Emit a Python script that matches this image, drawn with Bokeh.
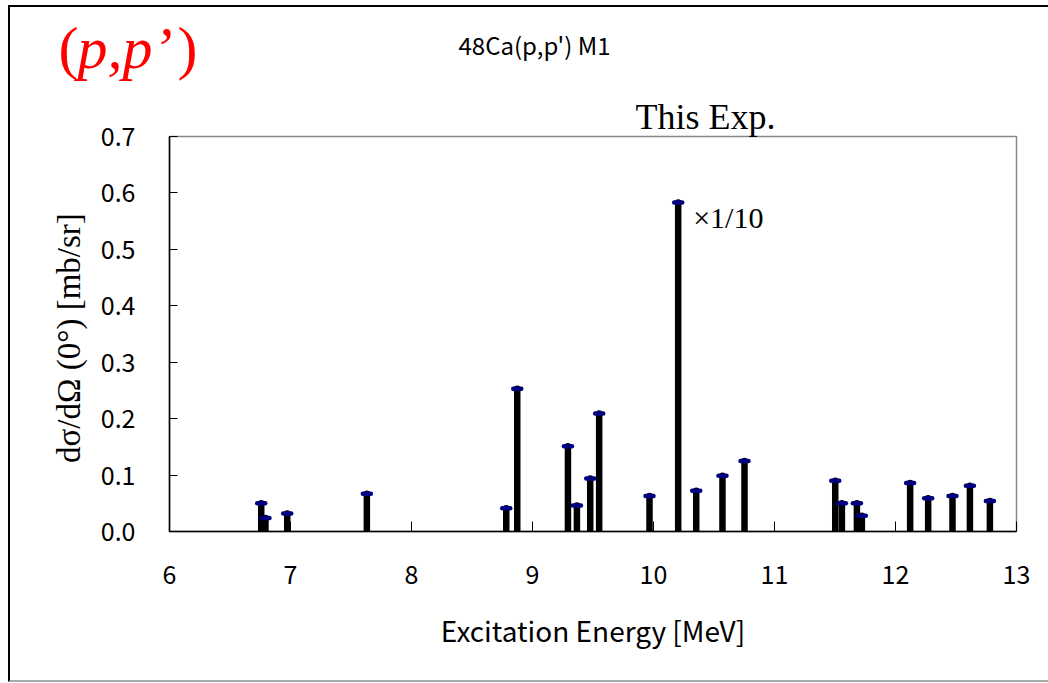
from bokeh.plotting import figure
from bokeh.layouts import column
from bokeh.models import (Range1d, FixedTicker, PrintfTickFormatter, Label, Title,
                          ColumnDataSource)
from bokeh.embed import file_html
from bokeh.resources import INLINE

# ---- data ----
energy = [6.758, 6.793, 6.973, 7.631, 8.783, 8.874, 9.293, 9.367, 9.477, 9.551,
          9.967, 10.204, 10.353, 10.570, 10.752, 11.502, 11.557, 11.681, 11.722,
          12.121, 12.270, 12.471, 12.615, 12.780]
cross_section = [0.050, 0.024, 0.032, 0.067, 0.041, 0.253, 0.151, 0.046, 0.094, 0.209,
                 0.063, 0.583, 0.072, 0.099, 0.125, 0.090, 0.050, 0.050, 0.028,
                 0.086, 0.059, 0.063, 0.081, 0.054]
zeros = [0.0] * len(energy)
x_ticks = [6, 7, 8, 9, 10, 11, 12, 13]
y_ticks = [0.0, 0.1, 0.2, 0.3, 0.4, 0.5, 0.6, 0.7]

SANS = "Noto Sans CJK JP"
SERIF = "Liberation Serif"

OX, OY = 10, 7          # content origin inside the slide border
W = 1048 - OX
HEADER_H = 85
MAIN_H = 680 - OY - HEADER_H

# ---- header (page pixel coordinates, y downward) ----
head = figure(width=W, height=HEADER_H, output_backend="svg", toolbar_location=None,
              x_range=Range1d(OX, OX + W), y_range=Range1d(OY + HEADER_H, OY),
              min_border=0, min_border_left=0, min_border_right=0,
              min_border_top=0, min_border_bottom=0, frame_align=False)
head.axis.visible = False
head.grid.visible = False
head.outline_line_color = None
head.background_fill_color = "white"
head.border_fill_color = "white"
head.add_layout(Label(x=534, y=44, text="48Ca(p,p') M1", text_font=SANS, text_font_size="24px",
                      text_align="center", text_baseline="middle", text_color="black"))
head.add_layout(Label(x=58, y=47, text="(", text_font=SERIF, text_font_size="60px",
                      text_baseline="alphabetic", text_color="red"))
head.add_layout(Label(x=77, y=47, text="p,p’", text_font=SERIF, text_font_size="60px",
                      text_font_style="italic", text_baseline="alphabetic", text_color="red"))
head.add_layout(Label(x=177, y=47, text=")", text_font=SERIF, text_font_size="60px",
                      text_baseline="alphabetic", text_color="red"))

# ---- main chart ----
src = ColumnDataSource(dict(e=energy, v=cross_section, z=zeros))
frame_top = 136 - OY - HEADER_H
frame_h = 395
p = figure(width=W, height=MAIN_H, output_backend="svg", toolbar_location=None,
           x_range=Range1d(6, 13), y_range=Range1d(0, 0.7),
           min_border_left=169 - OX, min_border_right=W - (169 - OX) - 847,
           min_border_top=frame_top, min_border_bottom=MAIN_H - frame_top - frame_h,
           frame_align=False)
p.xgrid.visible = False
p.ygrid.visible = False
p.outline_line_color = "#888888"
p.outline_line_width = 1.5
p.background_fill_color = "white"
p.border_fill_color = "white"

p.segment(x0="e", y0="z", x1="e", y1="v", source=src, line_width=6.5, line_color="black",
          line_cap="round")
p.scatter(x="e", y="v", source=src, marker="dash", size=8, line_width=4.5,
          line_color="#000080", line_cap="round")

xa = p.xaxis[0]
xa.ticker = FixedTicker(ticks=x_ticks)
xa.major_tick_in = 10
xa.major_tick_out = 0
xa.minor_tick_line_color = None
xa.axis_line_color = "black"
xa.axis_line_width = 1.5
xa.major_tick_line_color = "black"
xa.major_label_text_font = SANS
xa.major_label_text_font_size = "25px"
xa.major_label_text_color = "black"
xa.major_label_standoff = 33
xa.axis_label = "Excitation Energy [MeV]"
xa.axis_label_text_font = SANS
xa.axis_label_text_font_size = "28px"
xa.axis_label_text_font_style = "normal"
xa.axis_label_text_color = "black"
xa.axis_label_standoff = 23

ya = p.yaxis[0]
ya.ticker = FixedTicker(ticks=y_ticks)
ya.formatter = PrintfTickFormatter(format="%.1f")
ya.major_tick_in = 8
ya.major_tick_out = 0
ya.minor_tick_line_color = None
ya.axis_line_color = "black"
ya.axis_line_width = 1.5
ya.major_tick_line_color = "black"
ya.major_label_text_font = SANS
ya.major_label_text_font_size = "25px"
ya.major_label_text_color = "black"
ya.major_label_standoff = 34
ya.axis_label = "dσ/dΩ (0°)  [mb/sr]"
ya.axis_label_text_font = SERIF
ya.axis_label_text_font_size = "33px"
ya.axis_label_text_font_style = "normal"
ya.axis_label_text_color = "black"
ya.axis_label_standoff = 11

# "This Exp." sits just above the frame, in the top border panel
p.add_layout(Title(text="This Exp.", text_font=SERIF, text_font_size="36px",
                   text_font_style="normal", text_color="black", align="left",
                   offset=635 - 169, standoff=0), "above")

p.add_layout(Label(x=10.328, y=0.5557, text="×1/10", text_font=SERIF, text_font_size="30px",
                   text_baseline="alphabetic", text_color="black"))

layout = column(head, p, spacing=0,
                styles={"margin-left": "8px", "margin-top": "5px",
                        "border-left": "2px solid black", "border-top": "2px solid black",
                        "border-bottom": "2px solid #aaaaaa"})

open("out.html", "w").write(file_html(layout, INLINE))
